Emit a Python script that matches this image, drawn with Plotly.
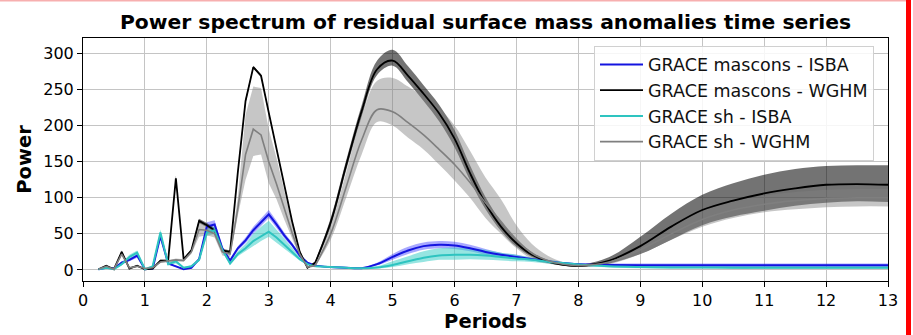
import plotly.graph_objects as go

# ---------------- data ----------------
periods = [0.25, 0.375, 0.5, 0.625, 0.75, 0.875, 1.0, 1.125, 1.25, 1.375, 1.5, 1.625, 1.75, 1.875, 2.0,
           2.125, 2.25, 2.375, 2.5, 2.625, 2.75, 2.875, 3.0, 3.125, 3.25, 3.375, 3.5, 3.625, 3.75,
           4.0, 4.25, 4.5, 4.75, 5.0, 5.25, 5.5, 5.75, 6.0, 6.25, 6.5, 6.75, 7.0, 7.25, 7.5, 7.75, 8.0,
           8.5, 9.0, 9.5, 10.0, 10.5, 11.0, 11.5, 12.0, 12.5, 13.0]

mascons_isba = [1, 3, 2, 10, 14, 20, 1, 2, 47, 9, 5, 1, 3, 15, 60, 63, 30, 13, 30, 41, 55, 66, 77, 63, 48, 35, 20, 10, 6,
                4, 3, 2.5, 8, 18, 27, 33, 35, 34, 30, 25, 21, 18, 15, 12, 9.5, 8,
                7, 6.5, 6.5, 6.5, 6.5, 6.5, 6.5, 6.5, 6.5, 6.5]
mascons_isba_lo = [0.5, 2, 1, 8, 12, 17, 0.5, 1, 42, 8, 4, 0.5, 2, 13, 55, 58, 27, 11, 27, 37, 50, 61, 72, 58, 44, 32, 18, 9, 5,
                   3, 2, 1.5, 6, 14, 22, 28, 30, 29, 26, 21, 18, 15, 13, 10, 8, 6.5,
                   5, 4, 3.5, 3.5, 3.5, 3.5, 3.5, 3.5, 3.5, 3.5]
mascons_isba_hi = [1.5, 4, 3, 12, 16, 22, 1.5, 3, 53, 10, 6, 1.5, 4, 17, 66, 69, 33, 15, 33, 45, 60, 72, 83, 68, 52, 38, 22, 11, 7,
                   5, 4, 3.5, 10, 22, 32, 38, 40, 39, 35, 29, 24, 21, 17, 14, 11, 9.5,
                   9, 9, 9, 9, 9, 9, 9, 9, 9, 9]

mascons_wghm = [1, 6, 1, 25, 2, 6, 1, 2, 13, 13, 127, 15, 27, 68, 62, 55, 27, 25, 135, 234, 281, 269, 218, 168, 118, 68, 25, 3, 10,
                66, 145, 220, 278, 290, 269, 244, 217, 182, 134, 92, 60, 37, 21, 12, 7, 5.5,
                13, 33, 60, 83, 96, 106, 113, 118, 119, 118]
mascons_wghm_lo = [1, 5, 1, 23, 2, 5, 1, 2, 12, 12, 123, 14, 25, 65, 59, 52, 25, 23, 132, 231, 279, 267, 216, 166, 116, 66, 23, 2, 8,
                   60, 138, 212, 270, 283, 260, 234, 206, 170, 124, 84, 54, 32, 18, 10, 6, 4,
                   9, 22, 42, 62, 74, 82, 89, 93, 95, 94]
mascons_wghm_hi = [1, 7, 1, 27, 3, 7, 1, 3, 14, 14, 131, 16, 29, 71, 65, 58, 29, 27, 138, 237, 283, 271, 220, 170, 120, 70, 27, 4, 12,
                   72, 152, 228, 290, 305, 282, 256, 229, 194, 145, 101, 67, 42, 25, 14, 9, 7,
                   18, 46, 78, 104, 120, 132, 140, 144, 145, 145]

sh_isba = [1, 3, 1, 8, 18, 24, 1, 5, 52, 8, 12, 3, 5, 14, 52, 55, 28, 9, 22, 30, 40, 47, 53, 45, 35, 25, 15, 8, 5,
           4, 3, 2.5, 3.5, 7, 12, 17, 20, 21, 21, 20, 18, 16, 14, 11.5, 9.5, 7.5,
           5, 4, 3.5, 3.5, 3, 3, 3, 3, 3, 3]
sh_isba_lo = [0.5, 2, 0.5, 6, 15, 21, 0.5, 4, 47, 6, 9, 2, 4, 12, 47, 50, 25, 7, 19, 26, 34, 40, 46, 38, 30, 21, 13, 7, 4,
              3, 2, 1.5, 2, 4, 8, 11, 14, 14, 15, 14, 13, 12, 11, 9, 7.5, 6,
              3.5, 2.5, 2, 2, 1.5, 1.5, 1.5, 1.5, 1.5, 1.5]
sh_isba_hi = [1.5, 4, 1.5, 10, 21, 27, 1.5, 6, 56, 10, 14, 4, 6, 16, 57, 60, 31, 11, 26, 36, 50, 60, 68, 56, 44, 31, 18, 9, 6,
              5, 4, 3.5, 5, 12, 19, 26, 30, 31, 30, 28, 24, 21, 17, 14, 11, 9,
              6.5, 5.5, 5, 5, 5, 5, 5, 5, 5, 5]

sh_wghm = [1, 5, 1, 22, 3, 5, 2, 3, 11, 12, 14, 13, 25, 56, 55, 50, 25, 22, 85, 160, 195, 187, 150, 119, 85, 52, 22, 4, 6,
           50, 115, 180, 222, 219, 204, 187, 167, 146, 121, 93, 67, 42, 23, 13, 8, 6,
           11, 28, 50, 70, 83, 91, 96, 99, 100, 100]
sh_wghm_lo = [1, 4, 1, 20, 2, 4, 1, 2, 10, 11, 12, 12, 22, 46, 48, 45, 20, 18, 75, 125, 158, 160, 120, 98, 70, 44, 18, 3, 5,
              42, 100, 160, 205, 200, 183, 167, 146, 124, 100, 72, 50, 30, 15, 9, 6, 4,
              8, 22, 42, 60, 72, 80, 84, 87, 88, 88]
sh_wghm_hi = [1, 6, 1, 24, 4, 6, 2, 4, 12, 13, 16, 15, 28, 66, 62, 56, 30, 27, 100, 215, 254, 252, 195, 155, 110, 65, 28, 5, 7,
              60, 135, 212, 262, 266, 254, 240, 224, 200, 165, 128, 98, 62, 36, 20, 11, 8,
              15, 34, 60, 82, 95, 103, 108, 111, 112, 112]

names = ["GRACE mascons - ISBA", "GRACE mascons - WGHM", "GRACE sh - ISBA", "GRACE sh - WGHM"]
x_ticks = list(range(0, 14))
y_ticks = [0, 50, 100, 150, 200, 250, 300]

for arr in [mascons_isba, mascons_isba_lo, mascons_isba_hi, mascons_wghm, mascons_wghm_lo, mascons_wghm_hi,
            sh_isba, sh_isba_lo, sh_isba_hi, sh_wghm, sh_wghm_lo, sh_wghm_hi]:
    assert len(arr) == len(periods), len(arr)

# ---------------- styling ----------------
series = [
    (names[0], mascons_isba, mascons_isba_lo, mascons_isba_hi, "#1414e0", "rgba(40,40,255,0.40)", 2.0),
    (names[1], mascons_wghm, mascons_wghm_lo, mascons_wghm_hi, "#000000", "rgba(0,0,0,0.55)", 1.8),
    (names[2], sh_isba, sh_isba_lo, sh_isba_hi, "#2ec4c0", "rgba(64,208,200,0.55)", 2.0),
    (names[3], sh_wghm, sh_wghm_lo, sh_wghm_hi, "#7f7f7f", "rgba(128,128,128,0.45)", 1.6),
]

split = periods.index(3.75)
segments = [(0, split + 1, "linear"), (split, len(periods), "spline")]

fig = go.Figure()

# uncertainty bands
for name, mean, lo, hi, lc, fc, lw in series:
    for a, b, shape in segments:
        x = periods[a:b]
        fig.add_trace(go.Scatter(x=x, y=lo[a:b], mode="lines", line=dict(width=0, shape=shape),
                                 legendgroup=name, showlegend=False, hoverinfo="skip"))
        fig.add_trace(go.Scatter(x=x, y=hi[a:b], mode="lines", line=dict(width=0, shape=shape),
                                 fill="tonexty", fillcolor=fc,
                                 legendgroup=name, showlegend=False, hoverinfo="skip"))

# mean lines
for name, mean, lo, hi, lc, fc, lw in series:
    for i, (a, b, shape) in enumerate(segments):
        fig.add_trace(go.Scatter(x=periods[a:b], y=mean[a:b], mode="lines",
                                 line=dict(color=lc, width=lw, shape=shape),
                                 name=name, legendgroup=name, showlegend=(i == 0)))

FONT = "DejaVu Sans"
L, R, T, B = 83, 25, 38, 54
W, H = 913, 335
pw, ph = W - L - R, H - T - B

def xp(px):
    return (px - L) / pw

def yp(py):
    return (H - B - py) / ph

fig.update_layout(
    width=W, height=H,
    margin=dict(l=L, r=R, t=T, b=B, pad=0),
    paper_bgcolor="white", plot_bgcolor="white",
    font=dict(family=FONT, size=16, color="black"),
    title=dict(text="Power spectrum of residual surface mass anomalies time series",
               font=dict(family=FONT, size=20.3, weight="bold", color="black"),
               x=0.5, xref="paper", xanchor="center",
               y=1 - 22 / H, yref="container", yanchor="middle"),
    legend=dict(x=xp(594), y=yp(45.5), xanchor="left", yanchor="top",
                bgcolor="rgba(255,255,255,0.85)", bordercolor="#d0d0d0", borderwidth=1,
                font=dict(family=FONT, size=17.5, color="#111111"),
                traceorder="grouped", tracegroupgap=0, itemwidth=43),
    showlegend=True,
)

fig.update_xaxes(range=[0, 13], tickvals=x_ticks, ticktext=[str(v) for v in x_ticks],
                 showgrid=True, gridcolor="#c4c4c4", gridwidth=1,
                 showline=True, linecolor="black", linewidth=1, mirror=True,
                 ticks="outside", ticklen=5, tickcolor="black",
                 tickfont=dict(family=FONT, size=16, color="black"),
                 zeroline=False, automargin=False,
                 title=dict(text="Periods", font=dict(family=FONT, size=19.5, weight="bold", color="black"),
                            standoff=2))
fig.update_yaxes(range=[-15.3, 321.3], tickvals=y_ticks, ticktext=[str(v) for v in y_ticks],
                 showgrid=True, gridcolor="#c4c4c4", gridwidth=1,
                 showline=True, linecolor="black", linewidth=1, mirror=True,
                 ticks="outside", ticklen=5, tickcolor="black",
                 tickfont=dict(family=FONT, size=16, color="black"),
                 zeroline=False, automargin=False,
                 title=dict(text="Power", font=dict(family=FONT, size=19.5, weight="bold", color="black"),
                            standoff=6))

# frame remnants of the screenshot: red bar at the right and faint line at the top
fig.add_shape(type="rect", xref="paper", yref="paper",
              x0=xp(906), x1=xp(911), y0=yp(H), y1=yp(0),
              fillcolor="#ff0000", line=dict(width=0), layer="above")
fig.add_shape(type="rect", xref="paper", yref="paper",
              x0=xp(0), x1=xp(906), y0=yp(1.5), y1=yp(0),
              fillcolor="rgba(240,110,110,0.55)", line=dict(width=0), layer="above")

fig.write_html("out.html")
